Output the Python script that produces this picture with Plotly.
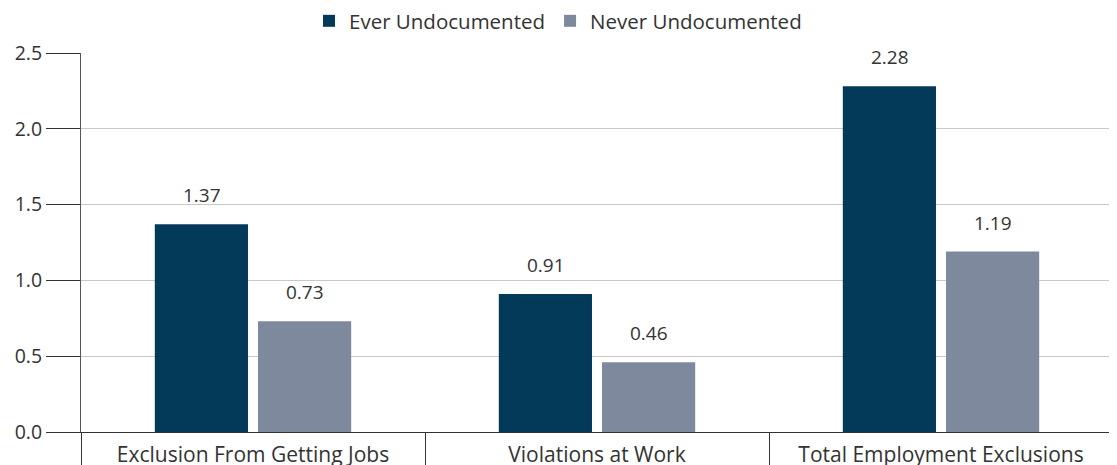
import plotly.graph_objects as go

categories = ["Exclusion From Getting Jobs", "Violations at Work", "Total Employment Exclusions"]
series_names = ["Ever Undocumented", "Never Undocumented"]
ever_values = [1.37, 0.91, 2.28]
never_values = [0.73, 0.46, 1.19]
y_ticks = [0.0, 0.5, 1.0, 1.5, 2.0, 2.5]

colors = ["#033a5a", "#7f899d"]
FONT = "Open Sans"
TXT = "#333333"
W, H = 1117, 465
BODY = 8  # default page body margin offsets the figure

fig = go.Figure()
for name, vals, col in zip(series_names, [ever_values, never_values], colors):
    fig.add_trace(go.Bar(x=categories, y=vals, name=name, marker_color=col,
                         marker_line_width=0))

# value labels
slot = 103
for j, vals in enumerate([ever_values, never_values]):
    for c, v in zip(categories, vals):
        fig.add_annotation(x=c, y=v, text=f"{v:.2f}", showarrow=False,
                           xshift=(j - 0.5) * slot, yanchor="bottom", yshift=14,
                           font=dict(family=FONT, size=19, color=TXT))

fig.update_layout(
    width=W, height=H,
    margin=dict(l=81 - BODY, r=W - (1113 - BODY), t=53 - BODY, b=H - (432 - BODY),
                autoexpand=False),
    plot_bgcolor="white", paper_bgcolor="white",
    barmode="group", bargap=0.4, bargroupgap=0.097,
    font=dict(family=FONT, size=19, color=TXT),
    legend=dict(orientation="h", xref="container", x=(558 - BODY) / W, xanchor="center",
                yref="container", y=1 - (21 - BODY) / H, yanchor="middle",
                font=dict(family=FONT, size=20.5, color=TXT), itemwidth=30,
                traceorder="normal"),
    showlegend=True,
)
fig.update_yaxes(range=[0, 2.5], tickvals=y_ticks, tickformat=".1f",
                 ticks="outside", ticklen=34, tickcolor="#333333", tickwidth=1,
                 showline=True, linecolor="#555555", linewidth=1,
                 gridcolor="#c8c8c8", gridwidth=1, zeroline=False, automargin=False,
                 tickfont=dict(family=FONT, size=19.5, color=TXT))
fig.update_xaxes(tickson="boundaries", ticks="outside", ticklen=40,
                 tickcolor="#333333", tickwidth=1,
                 showline=True, linecolor="#333333", linewidth=1,
                 ticklabelstandoff=4, automargin=False,
                 tickfont=dict(family=FONT, size=21, color=TXT))

fig.write_html("out.html")
